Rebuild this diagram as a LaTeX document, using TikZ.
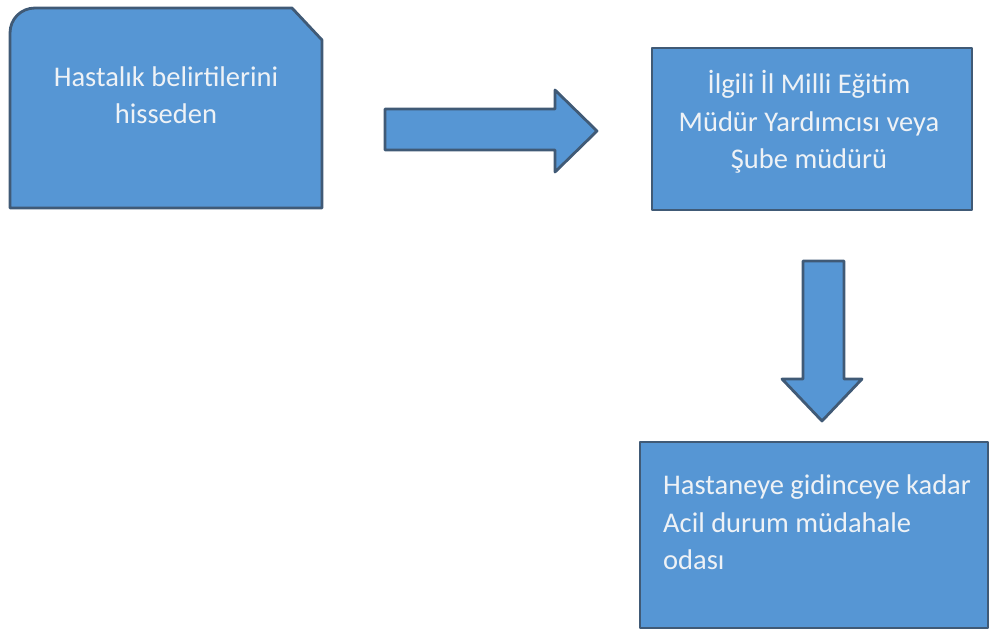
\documentclass[tikz,border=0pt]{standalone}
\usepackage{fontspec}
\setmainfont{Carlito}
\definecolor{boxblue}{RGB}{86,150,212}
\definecolor{edgeblue}{RGB}{64,90,118}
\definecolor{txtwhite}{RGB}{238,242,246}

\begin{document}
\begin{tikzpicture}[x=1pt,y=-1pt,
    blockfill/.style={fill=boxblue,draw=edgeblue,line width=2.8pt,line join=round},
    stepbox/.style={blockfill,rectangle,inner sep=0pt},
    steptext/.style={text=txtwhite,font=\fontsize{28.5}{37.5}\selectfont,inner sep=0pt}]
    \useasboundingbox (0,0) rectangle (991,637);

    % first step: snipped and rounded card
    \draw[blockfill] (10,208) -- (10,33) .. controls (10,19) and (21,8) .. (35,8)
        -- (292,8) -- (322,40) -- (322,208) -- cycle;
    \node[steptext,align=center] (symptom) at (166,95) {Hastalık belirtilerini\\hisseden};

    \node[stepbox,minimum width=320,minimum height=162] (officer) at (812,129) {};
    \node[steptext,align=center] at (809,122) {İlgili İl Milli Eğitim\\Müdür Yardımcısı veya\\Şube müdürü};

    \node[stepbox,minimum width=348,minimum height=186] (room) at (814,535) {};
    \node[steptext,align=left,anchor=north west] at (663,475)
        {Hastaneye gidinceye kadar\\Acil durum müdahale\\odası};

    % block arrows
    \draw[blockfill] (385,109) -- (555,109) -- (555,90) -- (597,131)
        -- (555,172) -- (555,150) -- (385,150) -- cycle;
    \draw[blockfill] (803,261) -- (844,261) -- (844,379) -- (862,379)
        -- (822,421) -- (782,379) -- (803,379) -- cycle;
\end{tikzpicture}
\end{document}
